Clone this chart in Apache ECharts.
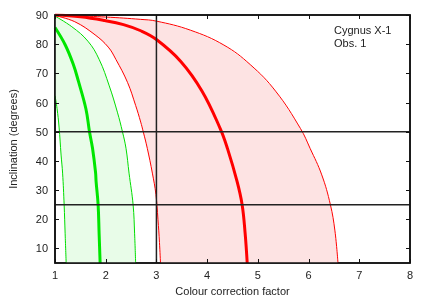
<!DOCTYPE html>
<html><head><meta charset="utf-8">
<script src="https://cdn.jsdelivr.net/npm/echarts@6/dist/echarts.min.js"></script>
<style>html,body{margin:0;padding:0;background:#fff}#c{width:431px;height:302px}</style>
</head><body><div id="c"></div>
<script>
// [colour correction factor, inclination (deg)]
const greenThick = [[1.00,85.7],[1.20,79.8],[1.36,73.1],[1.46,67.4],[1.61,57.8],[1.68,50],[1.74,44.3],[1.80,36],[1.81,33],[1.85,25],[1.87,15],[1.89,5]];
const greenThinLeft = [[1.00,62.3],[1.04,58],[1.08,51.6],[1.12,42],[1.15,35.8],[1.18,25],[1.20,15],[1.22,5]];
const greenThinRight = [[1.00,89.6],[1.33,86.0],[1.65,81.0],[1.87,74.8],[2.07,65.7],[2.23,56.7],[2.33,50],[2.40,44.3],[2.46,35.8],[2.54,25],[2.57,15],[2.59,5]];
const redThinLeft = [[1.00,89.8],[1.39,87.7],[1.79,83.2],[2.05,79],[2.20,74.8],[2.43,66.9],[2.59,59.0],[2.69,53.3],[2.74,50],[2.82,44.3],[2.92,35.8],[2.99,28.5],[3.03,20],[3.06,12],[3.08,5]];
const redThick = [[1.00,90],[1.50,89.4],[1.98,88.1],[2.35,86.7],[2.69,84.6],[3.00,81.6],[3.48,74.1],[3.90,63.9],[4.26,51],[4.40,44.3],[4.59,33],[4.69,25],[4.75,15],[4.79,5]];
const redThinRight = [[1.00,90],[2.00,89.3],[2.69,88.5],[3.00,87.9],[3.67,84.8],[4.33,79.7],[4.85,73.0],[5.35,63.9],[5.84,51.1],[6.03,44.3],[6.26,35.2],[6.43,25],[6.52,16],[6.58,5]];
const hLines = [25, 50];
const vLines = [3];
const xTicks = [1,2,3,4,5,6,7,8];
const yTicks = [10,20,30,40,50,60,70,80,90];
const xRange = [1, 8];
const yRange = [5, 90];
const annot = ['Cygnus X-1', 'Obs. 1'];

const FONT = 'Liberation Sans';
const INK = '#111111';
function band(left, right, color) {
  return {
    type: 'custom', z: 1, clip: true,
    data: [[0]],
    renderItem: function (params, api) {
      const pts = left.map(p => api.coord(p)).concat(right.slice().reverse().map(p => api.coord(p)));
      return { type: 'polygon', shape: { points: pts }, style: { fill: color } };
    }
  };
}
function curve(data, color, width) {
  return { type: 'line', data: data, symbol: 'none', smooth: 0.4, z: 3,
    lineStyle: { color: color, width: width } };
}
// plot frame, inward ticks on all four sides and y tick labels, placed through the axes' scales
const frame = {
  type: 'custom', clip: false, z: 6,
  data: [[0]],
  renderItem: function (params, api) {
    const tl = api.coord([xRange[0], yRange[1]]);
    const br = api.coord([xRange[1], yRange[0]]);
    const L = 4;
    const children = [];
    xTicks.forEach(v => {
      const x = Math.round(api.coord([v, yRange[0]])[0]) + 0.5;
      children.push({ type: 'line', shape: { x1: x, y1: br[1], x2: x, y2: br[1] - L }, style: { stroke: INK, lineWidth: 1 } });
      children.push({ type: 'line', shape: { x1: x, y1: tl[1], x2: x, y2: tl[1] + L }, style: { stroke: INK, lineWidth: 1 } });
    });
    yTicks.forEach(v => {
      const y = Math.round(api.coord([xRange[0], v])[1]) + 0.5;
      children.push({ type: 'line', shape: { x1: tl[0], y1: y, x2: tl[0] + L, y2: y }, style: { stroke: INK, lineWidth: 1 } });
      children.push({ type: 'line', shape: { x1: br[0], y1: y, x2: br[0] - L, y2: y }, style: { stroke: INK, lineWidth: 1 } });
      children.push({ type: 'text', x: tl[0] - 7, y: y,
        style: { text: String(v), fill: '#222', fontFamily: FONT, fontSize: 11, align: 'right', verticalAlign: 'middle' } });
    });
    children.push({ type: 'rect', shape: { x: tl[0], y: tl[1], width: br[0] - tl[0], height: br[1] - tl[1] },
      style: { fill: 'transparent', stroke: INK, lineWidth: 1.6 } });
    return { type: 'group', children: children };
  }
};
const series = [
  band(greenThinLeft, greenThinRight, '#e8fce8'),
  band(redThinLeft, redThinRight, '#fde3e3'),
  curve(greenThinLeft, '#00dd00', 1),
  curve(greenThinRight, '#00dd00', 1),
  curve(greenThick, '#00e600', 3),
  curve(redThinLeft, '#ff0000', 1),
  curve(redThinRight, '#ff0000', 1),
  curve(redThick, '#ff0000', 3)
];
hLines.forEach(v => series.push({ type: 'line', data: [[xRange[0], v], [xRange[1], v]], symbol: 'none', z: 4, lineStyle: { color: '#222', width: 1.5 } }));
vLines.forEach(v => series.push({ type: 'line', data: [[v, yRange[0]], [v, yRange[1]]], symbol: 'none', z: 4, lineStyle: { color: '#222', width: 1.5 } }));
series.push(frame);

const chart = echarts.init(document.getElementById('c'), null, { renderer: 'canvas' });
chart.setOption({
  animation: false,
  grid: { left: 54, right: 21, top: 15, bottom: 36, show: true, borderColor: INK, borderWidth: 1.5 },
  xAxis: { type: 'value', min: xRange[0], max: xRange[1], interval: 1,
    axisLine: { show: false }, axisTick: { show: false }, splitLine: { show: false },
    name: 'Colour correction factor', nameLocation: 'middle', nameGap: 23,
    nameTextStyle: { fontFamily: FONT, fontSize: 11, color: '#222' },
    axisLabel: { fontFamily: FONT, fontSize: 11, color: '#222', margin: 7 } },
  yAxis: { type: 'value', min: yRange[0], max: yRange[1],
    axisLine: { show: false }, axisTick: { show: false }, splitLine: { show: false },
    axisLabel: { show: false },
    name: 'Inclination (degrees)', nameLocation: 'middle', nameGap: 36,
    nameTextStyle: { fontFamily: FONT, fontSize: 11, color: '#222' } },
  graphic: [{ type: 'text', left: 334, top: 24, z: 20,
    style: { text: annot.join('\n'), fontFamily: FONT, fontSize: 11, lineHeight: 13, fill: '#222' } }],
  series: series
});
</script></body></html>
